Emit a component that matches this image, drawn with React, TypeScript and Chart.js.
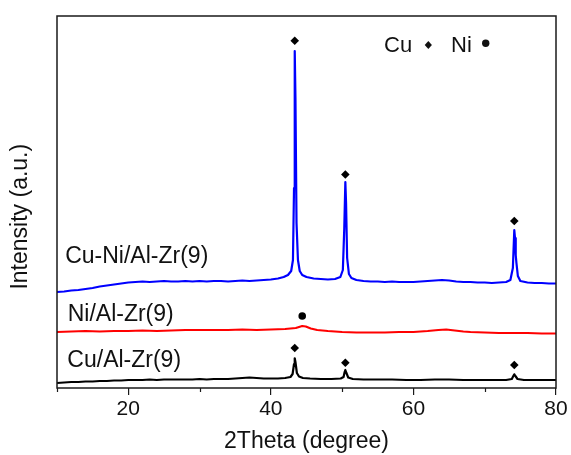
import React, { useEffect, useRef } from "react";
import { Chart, registerables } from "chart.js";

Chart.register(...registerables);

// ---- Data (2θ in degrees, intensity in arbitrary units, stacked offsets) ----
const cuNiTheta = [
  10, 11, 12, 13, 14, 15, 16, 17, 18, 19, 20, 21, 22, 23, 24, 25, 26, 27, 28, 29,
  30, 31, 32, 33, 34, 35, 36, 37, 38, 39, 40, 41, 41.8, 42.4, 42.85, 43.1, 43.25,
  43.35, 43.45, 43.6, 43.8, 44.05, 44.4, 45, 46, 47, 48, 49, 49.75, 50.1, 50.3,
  50.45, 50.55, 50.7, 50.95, 51.3, 52, 53, 54, 55, 56, 57, 58, 59, 60, 61, 62, 63,
  64, 65, 66, 67, 68, 69, 70, 71, 72, 73, 73.6, 73.95, 74.15, 74.25, 74.35, 74.45,
  74.65, 75, 76, 77, 78, 79, 80,
];
const cuNiIntensity = [
  96, 96.5, 97.5, 98, 99, 100, 101.5, 102.5, 103.5, 104.5, 105.5, 106, 106.5, 106,
  106.5, 107, 106.5, 106.5, 107, 106.5, 107, 106.5, 107, 107, 106.5, 107, 107.5,
  107, 107.5, 108, 108.5, 109.5, 111, 113, 117, 128, 200, 337, 290, 165, 128, 117,
  113, 111, 109.5, 109, 108.5, 109, 111, 118, 160, 206, 185, 130, 114, 110, 108,
  107, 106.5, 106.5, 106, 106.5, 106, 106, 106, 106.5, 107, 107.5, 108, 107.5,
  106.5, 106, 106, 105.5, 105.5, 105, 105.5, 106, 108, 120, 158, 150, 133, 125,
  112, 107, 105.5, 105, 105, 104.5, 104.5,
];

const niTheta = [
  10, 12, 14, 16, 18, 20, 22, 24, 26, 28, 30, 32, 34, 36, 38, 40, 42, 43.5, 44.4,
  44.9, 45.6, 46.5, 48, 50, 52, 54, 56, 58, 60, 62, 63.5, 64.6, 65.8, 67, 68, 70,
  72, 74, 76, 78, 80,
];
const niIntensity = [
  56, 56.5, 57, 56.5, 57, 57, 57.5, 57, 57.5, 58, 58, 58, 58, 58.5, 58, 58.5, 59,
  60, 62, 61.5, 59.5, 58, 57, 56, 55.5, 55.5, 55.5, 56, 56, 57, 58, 58.5, 57.5,
  56.5, 56, 55.5, 55, 55, 55, 54.5, 54.5,
];

const cuTheta = [
  10, 11, 12, 13, 14, 15, 16, 17, 18, 19, 20, 21, 22, 23, 24, 25, 26, 27, 28, 29,
  30, 31, 32, 33, 34, 35, 36, 37, 38, 39, 40, 41, 42, 42.75, 43.05, 43.25, 43.35,
  43.45, 43.65, 43.95, 44.5, 45.5, 47, 48.5, 49.8, 50.2, 50.35, 50.45, 50.6, 50.85,
  51.5, 53, 55, 57, 59, 61, 63, 65, 67, 69, 71, 73, 73.8, 74.05, 74.15, 74.3, 74.6,
  75.5, 77, 79, 80,
];
const cuIntensity = [
  5, 5.5, 6, 6, 6.5, 6.5, 7, 7, 7.5, 7.5, 8, 8, 8, 8.5, 8, 8.5, 8.5, 8.5, 8.5, 8.5,
  9, 8.5, 9, 9, 9, 9.5, 10, 10.5, 10, 9.5, 9.5, 9.5, 10, 11, 14, 24, 29.7, 26, 15,
  11.5, 10, 9.5, 9, 9, 9.5, 11, 16, 18, 15, 10.5, 9, 8.5, 8.5, 8.5, 8, 8, 8.5, 8.5,
  8, 8, 8, 8, 9, 12.5, 13.7, 12, 9, 8, 8, 8, 8,
];

// phase markers placed above the reflections
const cuMarkTheta = [43.35, 50.45, 74.15, 43.35, 50.45, 74.15];
const cuMarkIntensity = [347.3, 213.5, 167, 40, 25.3, 23];
const niMarkTheta = [44.4];
const niMarkIntensity = [72];

const seriesNames = ["Cu-Ni/Al-Zr(9)", "Ni/Al-Zr(9)", "Cu/Al-Zr(9)"];
const xTickLabels = [20, 40, 60, 80];
const xMin = 10;
const xMax = 80;
const yMin = 0;
const yMax = 372;

const FONT = '"Liberation Sans", Arial, Helvetica, sans-serif';

const toPoints = (xs: number[], ys: number[]) => xs.map((x, i) => ({ x, y: ys[i] }));

export default function App() {
  const ref = useRef<HTMLCanvasElement>(null);

  useEffect(() => {
    document.body.style.margin = "0";
    const canvas = ref.current;
    if (!canvas) return;

    const decor = {
      id: "decor",
      afterDraw(chart: any) {
        const { ctx, chartArea: a, scales } = chart;
        const xs = scales.x;
        const ys = scales.y;
        ctx.save();
        // frame
        ctx.strokeStyle = "#1a1a1a";
        ctx.lineWidth = 1.5;
        ctx.strokeRect(a.left, a.top, a.right - a.left, a.bottom - a.top);
        // minor ticks
        ctx.lineWidth = 1.2;
        for (let v = xMin; v <= xMax; v += 10) {
          if (v % 20 === 0) continue;
          const px = Math.round(xs.getPixelForValue(v)) + 0.5;
          ctx.beginPath();
          ctx.moveTo(px, a.bottom);
          ctx.lineTo(px, a.bottom + 4);
          ctx.stroke();
        }
        // y-axis title
        ctx.fillStyle = "#111";
        ctx.font = `23px ${FONT}`;
        ctx.textAlign = "center";
        ctx.textBaseline = "middle";
        ctx.save();
        ctx.translate(21, (a.top + a.bottom) / 2 + 14.7);
        ctx.rotate(-Math.PI / 2);
        ctx.fillText("Intensity (a.u.)", 0, 0);
        ctx.restore();
        // series labels
        ctx.textAlign = "left";
        ctx.textBaseline = "alphabetic";
        ctx.font = `23px ${FONT}`;
        const labelTheta = [11.15, 11.5, 11.45];
        const labelLevel = [124.7, 67.3, 21.3];
        seriesNames.forEach((name, i) => {
          ctx.fillText(name, xs.getPixelForValue(labelTheta[i]), ys.getPixelForValue(labelLevel[i]));
        });
        // phase key
        ctx.font = `22px ${FONT}`;
        const base = ys.getPixelForValue(336.3);
        ctx.fillText("Cu", xs.getPixelForValue(55.87), base);
        ctx.fillText("Ni", xs.getPixelForValue(65.27), base);
        const dx = xs.getPixelForValue(62.09);
        const dy = ys.getPixelForValue(343);
        ctx.beginPath();
        ctx.moveTo(dx, dy - 4);
        ctx.lineTo(dx + 3.6, dy);
        ctx.lineTo(dx, dy + 4);
        ctx.lineTo(dx - 3.6, dy);
        ctx.closePath();
        ctx.fill();
        ctx.beginPath();
        ctx.arc(xs.getPixelForValue(70.14), ys.getPixelForValue(344.7), 3.7, 0, Math.PI * 2);
        ctx.fill();
        ctx.restore();
      },
    };

    const chart = new Chart(canvas, {
      type: "line",
      data: {
        datasets: [
          {
            label: seriesNames[0],
            data: toPoints(cuNiTheta, cuNiIntensity),
            borderColor: "#0000ff",
            borderWidth: 2.2,
            pointRadius: 0,
            borderJoinStyle: "round",
          },
          {
            label: seriesNames[1],
            data: toPoints(niTheta, niIntensity),
            borderColor: "#ff0000",
            borderWidth: 2.2,
            pointRadius: 0,
            borderJoinStyle: "round",
          },
          {
            label: seriesNames[2],
            data: toPoints(cuTheta, cuIntensity),
            borderColor: "#000000",
            borderWidth: 2.2,
            pointRadius: 0,
            borderJoinStyle: "round",
          },
          {
            label: "Cu",
            data: toPoints(cuMarkTheta, cuMarkIntensity),
            showLine: false,
            pointStyle: "rectRot",
            pointRadius: 4.3,
            pointBackgroundColor: "#000",
            pointBorderWidth: 0,
          },
          {
            label: "Ni",
            data: toPoints(niMarkTheta, niMarkIntensity),
            showLine: false,
            pointStyle: "circle",
            pointRadius: 3.8,
            pointBackgroundColor: "#000",
            pointBorderWidth: 0,
          },
        ],
      },
      options: {
        responsive: false,
        animation: false,
        devicePixelRatio: 1,
        layout: { padding: { top: 16, right: 15, left: 0, bottom: 0 } },
        plugins: {
          legend: { display: false },
          tooltip: { enabled: false },
        },
        scales: {
          x: {
            type: "linear",
            min: xMin,
            max: xMax,
            afterFit: (s: any) => {
              s.height = 67;
            },
            ticks: {
              stepSize: 10,
              autoSkip: false,
              maxRotation: 0,
              padding: 2,
              color: "#111",
              font: { family: FONT, size: 21, lineHeight: 1.2 },
              callback: (v: any) => (xTickLabels.includes(Number(v)) ? String(v) : ""),
            },
            grid: {
              drawOnChartArea: false,
              drawTicks: true,
              tickLength: 7,
              lineWidth: 1.2,
              tickColor: (c: any) =>
                c.tick && xTickLabels.includes(c.tick.value) ? "#1a1a1a" : "rgba(0,0,0,0)",
            },
            border: { display: false },
            title: {
              display: true,
              text: "2Theta (degree)",
              color: "#111",
              font: { family: FONT, size: 23, lineHeight: 1.2 },
              padding: { top: 0, bottom: 0 },
            },
          },
          y: {
            type: "linear",
            min: yMin,
            max: yMax,
            afterFit: (s: any) => {
              s.width = 57;
            },
            ticks: { display: false },
            grid: { display: false },
            border: { display: false },
          },
        },
      },
      plugins: [decor],
    } as any);

    return () => chart.destroy();
  }, []);

  return (
    <div style={{ width: 571, height: 455, background: "#fff" }}>
      <canvas ref={ref} width={571} height={455} style={{ display: "block" }} />
    </div>
  );
}
